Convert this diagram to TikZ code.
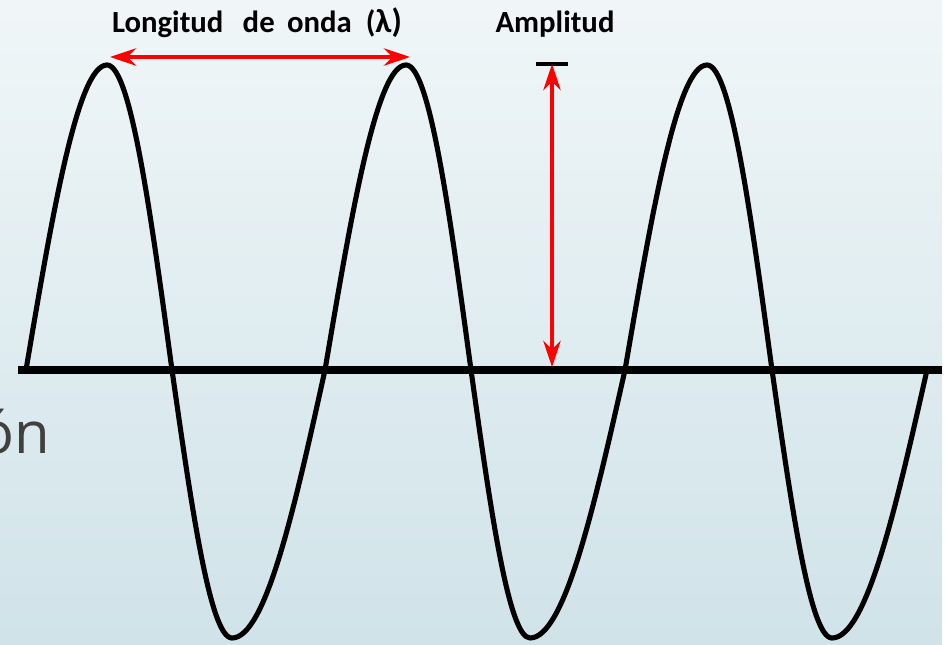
\documentclass[tikz,border=0pt]{standalone}
\usepackage{fontspec}
\setmainfont{Carlito}
\newfontfamily\slidefont{Open Sans}
\usetikzlibrary{arrows.meta}
\definecolor{bgtop}{RGB}{240,246,248}
\definecolor{bgbottom}{RGB}{208,227,233}
\definecolor{slidegray}{RGB}{64,64,64}

\begin{document}
\begin{tikzpicture}[
  x=0.02cm, y=-0.02cm,
  wave/.style={line width=2.9pt, line join=round},
  axisline/.style={line width=4pt},
  measure/.style={red, line width=1.9pt, {Stealth[length=15pt,width=10pt,inset=5pt]}-{Stealth[length=15pt,width=10pt,inset=5pt]}},
  titletext/.style={font=\bfseries\fontsize{17.5}{20}\selectfont, inner sep=0pt, anchor=base}
]
\useasboundingbox (0,0) rectangle (946,645);
\shade[top color=bgtop, bottom color=bgbottom] (0,0) rectangle (942,645);

\node[font=\slidefont\fontsize{33}{40}\selectfont, text=slidegray, anchor=base east, inner sep=0pt] (hidden) at (50,453) {ón};

\node[titletext] (lambdatext) at (257,33) {Longitud\hspace{11pt}de\hspace{7pt}onda\hspace{8pt}(\fontsize{19}{20}\selectfont λ)};
\node[titletext] (amptext) at (555,33) {Amplitud};

\draw[axisline] (18,370) -- (942,370);
\draw[wave] (26,370) sin (107,65) cos (172,370) sin (232,638) cos (325,370)
  sin (406,65) cos (471,370) sin (530,638) cos (625,370)
  sin (707,65) cos (772,370) sin (832,638) cos (927,370);

\coordinate (crestA) at (110,57);
\coordinate (crestB) at (410,57);
\draw[measure] (crestA) -- (crestB);

\coordinate (amptop) at (552,64);
\coordinate (ampbase) at (552,367);
\draw[line width=2.8pt] (536,64) -- (568,64);
\draw[measure] (amptop) -- (ampbase);

\end{tikzpicture}
\end{document}
